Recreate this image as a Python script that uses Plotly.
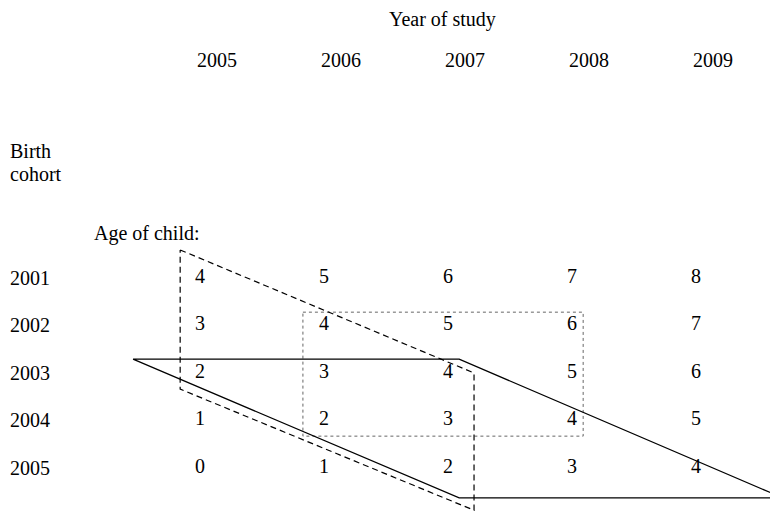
import plotly.graph_objects as go

# years of study (columns) and birth cohorts (rows)
years = [2005, 2006, 2007, 2008, 2009]
cohorts = [2001, 2002, 2003, 2004, 2005]
# age of child in each cell, row = cohort, column = year
ages = [
    [4, 5, 6, 7, 8],
    [3, 4, 5, 6, 7],
    [2, 3, 4, 5, 6],
    [1, 2, 3, 4, 5],
    [0, 1, 2, 3, 4],
]

# outlines drawn over the table, in (year, cohort) units
dashed_x = [2004.84, 2007.21, 2007.21, 2004.84, 2004.84]
dashed_y = [2000.42, 2003.01, 2005.90, 2003.35, 2000.42]
solid_x = [2004.46, 2007.09, 2009.70, 2007.09, 2004.46]
solid_y = [2002.72, 2002.72, 2005.64, 2005.64, 2002.72]
dotted_x = [2005.83, 2008.09, 2008.09, 2005.83, 2005.83]
dotted_y = [2001.73, 2001.73, 2004.34, 2004.34, 2001.73]

FONT = dict(family="Liberation Serif, Times New Roman, serif", size=20, color="black")

# the page body has an 8px margin, so the figure is a bit smaller
W, H = 770, 503
OFF = 8


def px(x):
    return (x - OFF) / W


def py(y):
    return 1 - (y - OFF) / H


xs, ys, txt = [], [], []
for i, c in enumerate(cohorts):
    for j, yr in enumerate(years):
        xs.append(yr)
        ys.append(c)
        txt.append(str(ages[i][j]))

fig = go.Figure()
fig.add_trace(go.Scatter(x=dotted_x, y=dotted_y, mode="lines",
                         line=dict(color="#666666", width=1, dash="dot")))
fig.add_trace(go.Scatter(x=dashed_x, y=dashed_y, mode="lines",
                         line=dict(color="black", width=1.2, dash="6px,4px")))
fig.add_trace(go.Scatter(x=solid_x, y=solid_y, mode="lines",
                         line=dict(color="black", width=1.3)))
fig.add_trace(go.Scatter(x=xs, y=ys, mode="text", text=txt,
                         textposition="middle center", textfont=FONT))

common = dict(showarrow=False, font=FONT, yanchor="middle")
ann = [dict(x=px(442), y=py(20), xref="paper", yref="paper",
            text="Year of study", **common)]
for yr in years:
    ann.append(dict(x=yr + 0.137, y=py(60), xref="x", yref="paper",
                    text=str(yr), **common))
for c in cohorts:
    ann.append(dict(x=px(8), y=c, xref="paper", yref="y", xanchor="left",
                    text=str(c), **common))
ann.append(dict(x=px(8), y=py(151), xref="paper", yref="paper",
                xanchor="left", text="Birth", **common))
ann.append(dict(x=px(8), y=py(174), xref="paper", yref="paper",
                xanchor="left", text="cohort", **common))
ann.append(dict(x=px(92), y=py(233), xref="paper", yref="paper",
                xanchor="left", text="Age of child:", **common))

fig.update_layout(
    width=W, height=H,
    margin=dict(l=0, r=0, t=0, b=0),
    paper_bgcolor="white", plot_bgcolor="white",
    showlegend=False,
    annotations=ann,
    xaxis=dict(range=[2003.4516, 2009.6613], visible=False, fixedrange=True),
    yaxis=dict(range=[2005.9158, 1995.3263], visible=False, fixedrange=True),
)

fig.write_html("out.html")
